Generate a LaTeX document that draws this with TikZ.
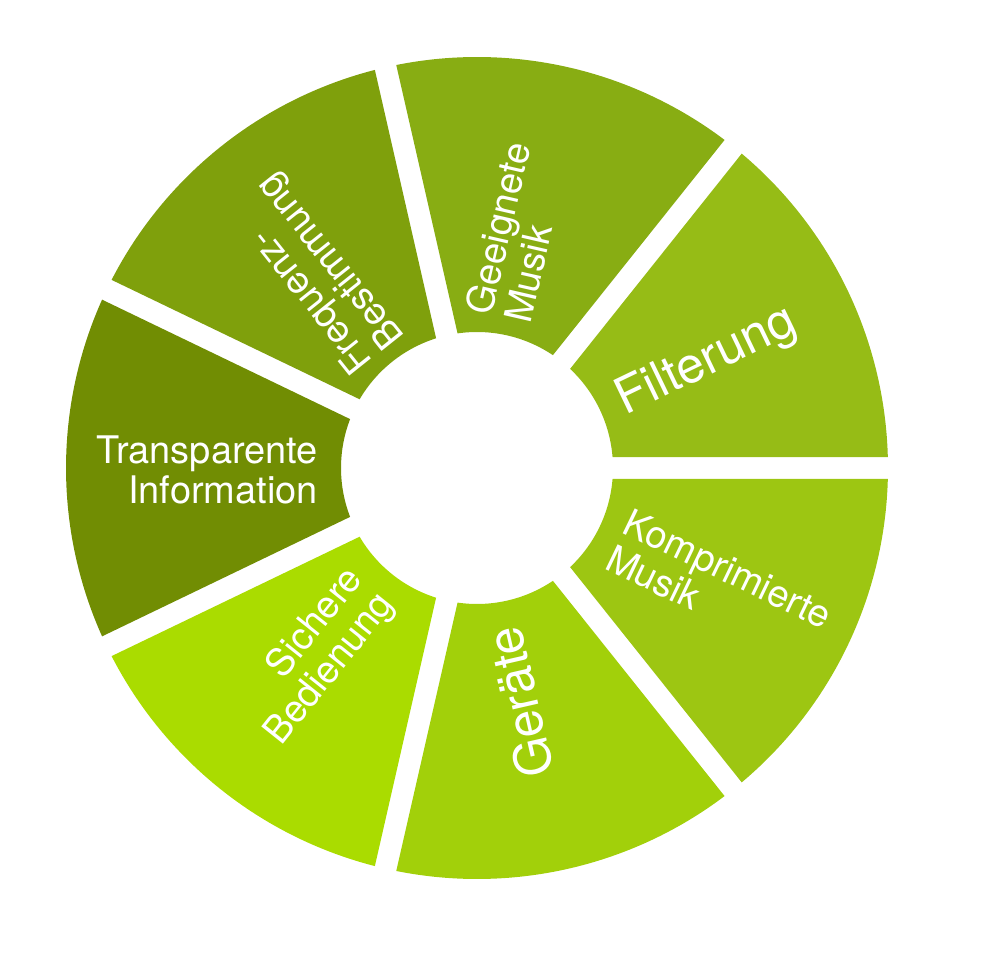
\documentclass[tikz,border=0pt]{standalone}
\usepackage{fontspec}
\setmainfont{TeX Gyre Heros}

\definecolor{filtergreen}{HTML}{96BC16}
\definecolor{musicgreen}{HTML}{88AD13}
\definecolor{freqgreen}{HTML}{7FA00C}
\definecolor{infogreen}{HTML}{718D03}
\definecolor{usegreen}{HTML}{AADC00}
\definecolor{devicegreen}{HTML}{A2D00A}
\definecolor{compgreen}{HTML}{9DC612}

% one ring sector between two angles, gaps of 22pt
\newcommand{\wheelpart}[3]{%
  \fill[#1] ({#2+4.64}:136pt) -- ({#2+1.53}:411pt)
    arc[start angle={#2+1.53}, end angle={#3-1.53}, radius=411pt]
    -- ({#3-4.64}:136pt)
    arc[start angle={#3-4.64}, end angle={#2+4.64}, radius=136pt] -- cycle;}

\tikzset{
  seglabel/.style={text=white, inner sep=0pt, font=\fontsize{38}{40}\selectfont},
  biglabel/.style={seglabel, font=\fontsize{50}{52}\selectfont}
}

\begin{document}
\begin{tikzpicture}
    \useasboundingbox (-477pt,-492pt) rectangle (515pt,468pt);

    \wheelpart{filtergreen}{0}{51.43}
    \wheelpart{musicgreen}{51.43}{102.86}
    \wheelpart{freqgreen}{102.86}{154.29}
    \wheelpart{infogreen}{154.29}{205.71}
    \wheelpart{usegreen}{205.71}{257.14}
    \wheelpart{devicegreen}{257.14}{308.57}
    \wheelpart{compgreen}{308.57}{360}

    \node (filterung) [biglabel, rotate=25.7] at (24.7:253pt) {Filterung};
    \node (musik) [seglabel, rotate=77.1, align=left] at (80.3:239pt) {Geeignete\\Musik};
    \node (frequenz) [seglabel, rotate=128.6, align=left] at (129.5:253pt) {Frequenz-\\Bestimmung};
    \node (transparenz) [seglabel, align=right, anchor=east] at (-159pt,-2pt) {Transparente\\Information};
    \node (bedienung) [seglabel, rotate=51.4, align=right] at (229.4:249pt) {Sichere\\Bedienung};
    \node (geraete) [biglabel, rotate=102.9] at (280.4:238pt) {Geräte};
    \node (kompression) [seglabel, rotate=-25.7, align=left] at (-26.1:270pt) {Komprimierte\\Musik};
\end{tikzpicture}
\end{document}
